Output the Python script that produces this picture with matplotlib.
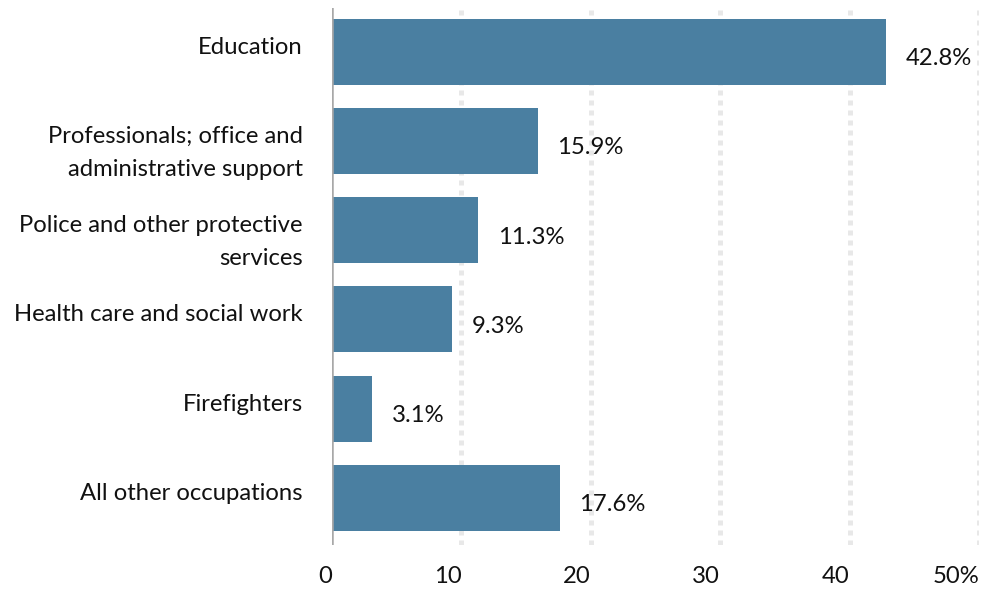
import matplotlib
matplotlib.use("Agg")
import matplotlib.pyplot as plt
import matplotlib.transforms as mtransforms

categories = [
    "Education",
    "Professionals; office and\nadministrative support",
    "Police and other protective\nservices",
    "Health care and social work",
    "Firefighters",
    "All other occupations",
]
values = [42.8, 15.9, 11.3, 9.3, 3.1, 17.6]
xticks = [0, 10, 20, 30, 40, 50]
xtick_labels = ["0", "10", "20", "30", "40", "50%"]

plt.rcParams['font.family'] = ['Lato', 'DejaVu Sans']
FS = 17.2
TXT = "#111111"

fig = plt.figure(figsize=(9.85, 5.92), dpi=100)
ax = fig.add_axes([332/985, 1 - 545/592, (979-332)/985, (545-8)/592])

y = list(range(len(categories)))
ax.barh(y, values, height=0.74, color="#4a7fa1", zorder=3)

ax.set_xlim(0, 50)
ax.set_ylim(5.53, -0.49)

for xv in xticks[1:]:
    ax.axvline(xv, color="#e8e8e8", linewidth=3.6, linestyle=(0, (1, 1)), zorder=1)
ax.axvline(0, color="#a8a8a8", linewidth=1.8, zorder=4)

for yi, v in zip(y, values):
    ax.annotate(f"{v}%", xy=(v, yi), xytext=(14, -5), textcoords="offset points",
                ha="left", va="center", fontsize=FS, color=TXT)

# category labels: first line baseline near bar centre, further lines below
blend = mtransforms.blended_transform_factory(ax.transAxes, ax.transData)
for yi, lab in zip(y, categories):
    for k, line in enumerate(lab.split("\n")):
        tr = mtransforms.offset_copy(blend, fig=fig, x=-21, y=-1.5 - 23.8 * k, units="points")
        ax.text(0, yi, line, transform=tr, ha="right", va="baseline",
                fontsize=FS, color=TXT)

ax.set_yticks([])
ax.set_xticks(xticks)
ax.set_xticklabels(xtick_labels, fontsize=FS, color=TXT, ha="right")
ax.tick_params(axis="x", length=0, pad=15)

for s in ax.spines.values():
    s.set_visible(False)

fig.savefig("out.png", dpi=100)
